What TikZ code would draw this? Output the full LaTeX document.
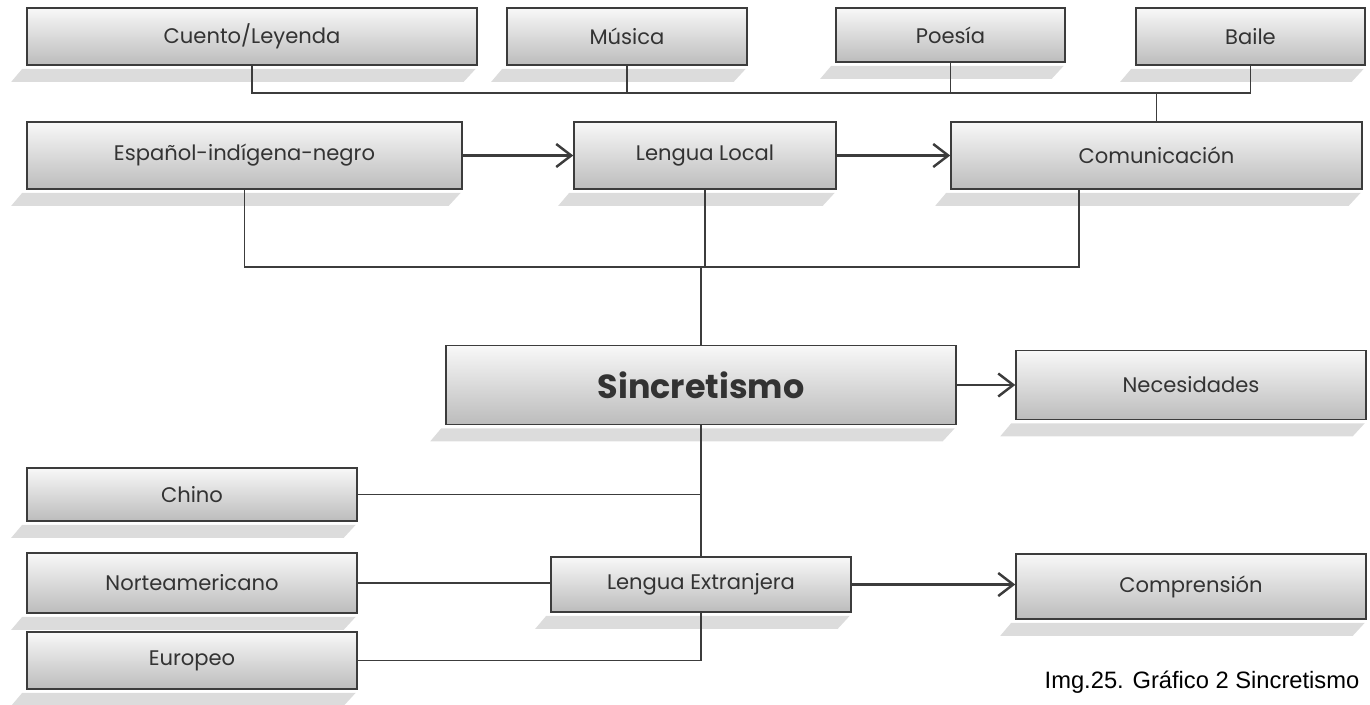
\documentclass[tikz,border=0pt]{standalone}
\usepackage{fontspec}
\setmainfont{Poppins}
\newfontfamily\captionfont{Liberation Sans}
\usetikzlibrary{arrows.meta}
\usetikzlibrary{positioning}
\definecolor{boxline}{HTML}{3C3C3C}
\definecolor{boxtop}{HTML}{F8F8F8}
\definecolor{boxbottom}{HTML}{BCBCBC}
\definecolor{shadowgray}{HTML}{DCDCDC}
\definecolor{textgray}{HTML}{333333}

\begin{document}
\begin{tikzpicture}[x=0.02cm, y=-0.02cm,
    font=\fontsize{12}{14}\selectfont,
    box/.style={draw=boxline, line width=0.9pt, top color=boxtop, bottom color=boxbottom,
                text=textgray, minimum height=1.14cm, inner sep=0pt},
    link/.style={draw=boxline, line width=0.8pt},
    flow/.style={draw=boxline, line width=1.4pt, -{Straight Barb[length=0.3cm, width=0.46cm]}},
    ]
    \useasboundingbox (0,0) rectangle (1370,704);
    % Draw the boxes
    \node[box, minimum width=9cm] (cuento) at (252,36.5) {Cuento/Leyenda};
    \node[box, minimum width=4.8cm] (musica) at (627,36.5) {Música};
    \node[box, minimum width=4.58cm, minimum height=1.08cm] (poesia) at (950.5,35) {Poesía};
    \node[box, minimum width=4.58cm] (baile) at (1250.5,36.5) {Baile};
    \node[box, minimum width=8.7cm, minimum height=1.34cm] (espanol) at (244.5,155.5) {Español-indígena-negro};
    \node[box, minimum width=5.24cm, minimum height=1.34cm] (local) at (705,155.5) {Lengua Local};
    \node[box, minimum width=8.22cm, minimum height=1.34cm] (comunic) at (1156.5,155.5) {Comunicación};
    \node[box, minimum width=10.2cm, minimum height=1.58cm,
          font=\fontsize{19}{22}\selectfont\bfseries] (sincr) at (701,385) {Sincretismo};
    \node[box, minimum width=7cm, minimum height=1.38cm] (neces) at (1191,385) {Necesidades};
    \node[box, minimum width=6.6cm, minimum height=1.06cm] (chino) at (192,494.5) {Chino};
    \node[box, minimum width=6.6cm, minimum height=1.2cm] (norte) at (192,583) {Norteamericano};
    \node[box, minimum width=6cm, minimum height=1.1cm] (extran) at (701,584.5) {Lengua Extranjera};
    \node[box, minimum width=7cm, minimum height=1.3cm] (compren) at (1191,586.5) {Comprensión};
    \node[box, minimum width=6.6cm] (europeo) at (192,660.5) {Europeo};
    % Add the shadows below the boxes
    \foreach \n in {cuento,musica,poesia,baile,espanol,local,comunic,sincr,neces,chino,norte,extran,compren,europeo}{
        \fill[shadowgray] ([shift={(-4,3)}]\n.south west) -- ([shift={(-2,3)}]\n.south east)
            -- ([shift={(-14,16)}]\n.south east) -- ([shift={(-15,16)}]\n.south west) -- cycle;
    }
    % Connect the top row
    \coordinate (topjoin) at (1156.5,93);
    \draw[link] (cuento.south) |- (topjoin);
    \draw[link] (musica.south) -- (musica.south |- topjoin);
    \draw[link] (poesia.south) -- (poesia.south |- topjoin);
    \draw[link] (baile.south) |- (topjoin);
    \draw[link] (topjoin) -- (comunic.north);
    % Arrows of the second row
    \draw[flow] (espanol) -- (local);
    \draw[flow] (local) -- (comunic);
    % Join the second row to Sincretismo
    \coordinate (midjoin) at (701,267);
    \draw[link] (espanol.south) |- (midjoin);
    \draw[link] ([xshift=-1.55cm]comunic.south) |- (midjoin);
    \draw[link] (local.south) -- (local.south |- midjoin);
    \draw[link] (midjoin) -- (sincr.north);
    \draw[flow] (sincr) -- (neces);
    % Lower part
    \draw[link] (sincr.south) -- (extran.north);
    \draw[link] (chino.east) -- (chino.east -| sincr.south);
    \draw[link] (norte.east) -- (norte.east -| extran.west);
    \draw[link] (europeo.east) -| (extran.south);
    \draw[flow] (extran.east) -- (extran.east -| compren.west);
    % Caption
    \node[font=\captionfont\fontsize{13.5}{15}\selectfont] (caption) at (1202,682) {Img.25. Gráfico 2 Sincretismo};
\end{tikzpicture}
\end{document}
